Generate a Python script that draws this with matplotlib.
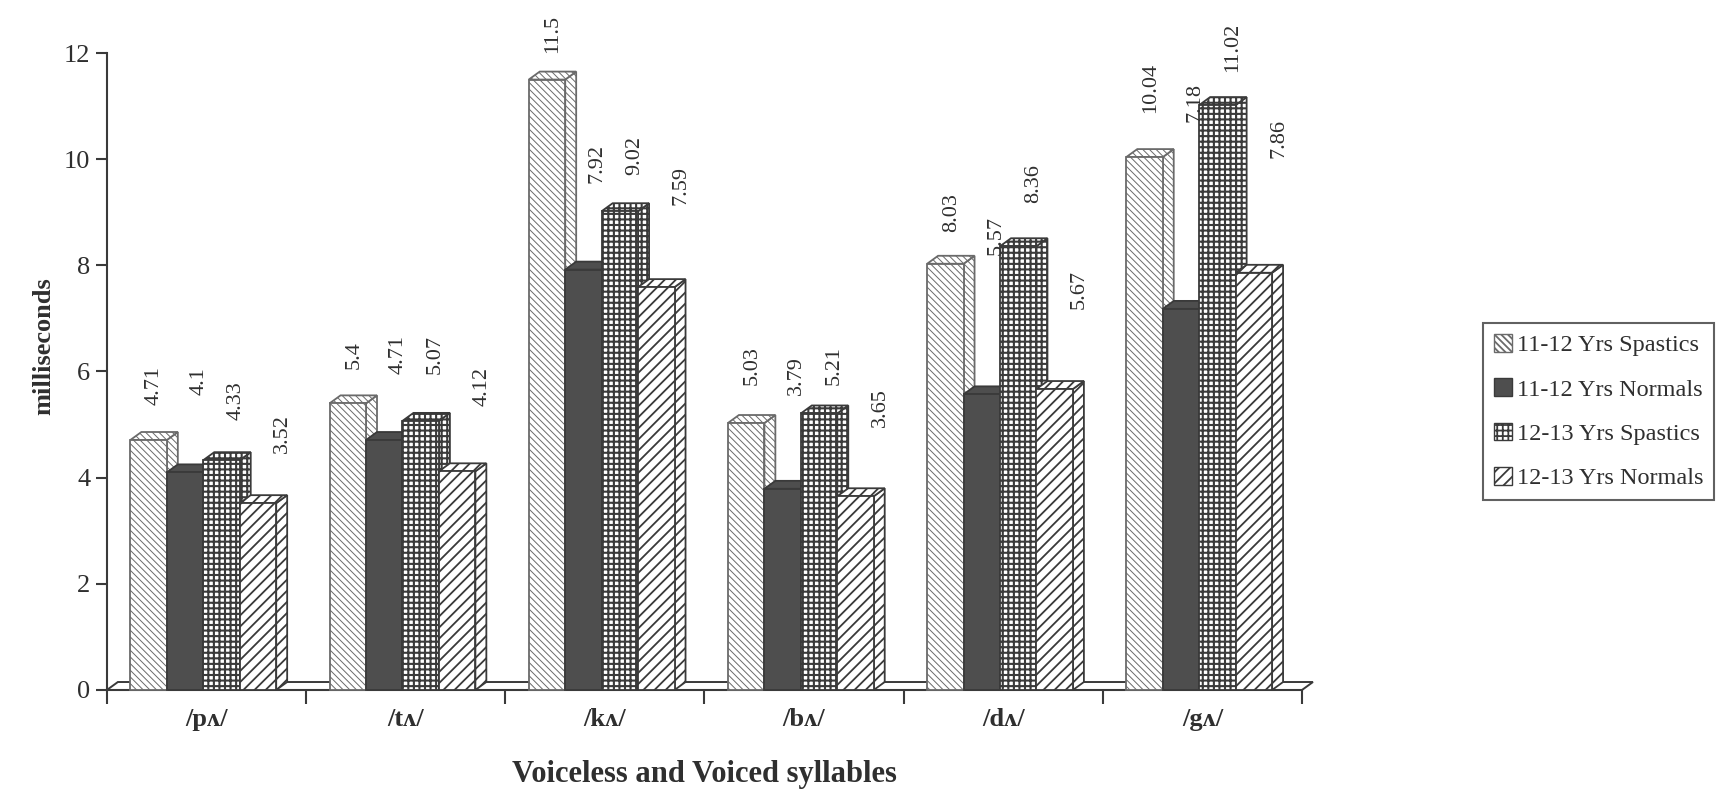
import matplotlib
matplotlib.use("Agg")
import matplotlib.pyplot as plt
from matplotlib.patches import Polygon, Patch

# ---- data -------------------------------------------------------------
categories = ["/p\u028c/", "/t\u028c/", "/k\u028c/", "/b\u028c/", "/d\u028c/", "/g\u028c/"]
series_names = ["11-12 Yrs Spastics", "11-12 Yrs Normals",
                "12-13 Yrs Spastics", "12-13 Yrs Normals"]
spastics_11_12 = [4.71, 5.4, 11.5, 5.03, 8.03, 10.04]
normals_11_12 = [4.1, 4.71, 7.92, 3.79, 5.57, 7.18]
spastics_12_13 = [4.33, 5.07, 9.02, 5.21, 8.36, 11.02]
normals_12_13 = [3.52, 4.12, 7.59, 3.65, 5.67, 7.86]
y_ticks = [0, 2, 4, 6, 8, 10, 12]

series_values = [spastics_11_12, normals_11_12, spastics_12_13, normals_12_13]

# ---- layout / style ---------------------------------------------------
# where each rotated value label starts (in axis units), per series
label_start = [
    [5.37, 6.05, 12.0, 5.75, 8.63, 10.87],
    [5.56, 5.95, 9.55, 5.55, 8.19, 10.70],
    [5.08, 5.95, 9.70, 5.75, 9.17, 11.64],
    [4.46, 5.35, 9.13, 4.95, 7.17, 10.02],
]
label_dx = [0.03, 0.07, 0.075, 0.125]

ink = "#3a3a3a"
text_ink = "#2f2f2f"
hatches = ["\\\\\\\\\\", None, "+++", "///"]
hatch_lw = [0.7, 1.0, 1.5, 1.3]
faces = ["white", "#4e4e4e", "white", "white"]
edge_cols = ["#6a6a6a", ink, ink, ink]

bar_w = 0.183
first_off = 0.118
depth_x = 0.055
depth_y = 0.15

serif = ["Liberation Serif", "DejaVu Serif"]
plt.rcParams["font.family"] = serif

fig = plt.figure(figsize=(17.3, 7.96), dpi=100)
ax = fig.add_axes([0.0618, 0.1332, 0.6908, 0.8002])
ax.set_xlim(0, len(categories))
ax.set_ylim(0, 12)


def make_patch(poly, j):
    plt.rcParams["hatch.linewidth"] = hatch_lw[j]
    p = Polygon(poly, closed=True, facecolor=faces[j], edgecolor=edge_cols[j],
                hatch=hatches[j], linewidth=1.3, clip_on=False)
    if hasattr(p, "set_hatch_linewidth"):
        p.set_hatch_linewidth(hatch_lw[j])
    return p


# floor slab
floor = Polygon([(0, 0), (len(categories), 0),
                 (len(categories) + depth_x, depth_y), (depth_x, depth_y)],
                closed=True, facecolor="white", edgecolor=ink, linewidth=1.4,
                clip_on=False, zorder=1)
ax.add_patch(floor)

for j, vals in enumerate(series_values):
    lefts = [i + first_off + j * bar_w for i in range(len(categories))]
    plt.rcParams["hatch.linewidth"] = hatch_lw[j]
    bars = ax.bar(lefts, vals, width=bar_w, align="edge", color=faces[j],
                  edgecolor=edge_cols[j], hatch=hatches[j], linewidth=1.3,
                  zorder=10 + 3 * j + 2)
    for b in bars:
        if hasattr(b, "set_hatch_linewidth"):
            b.set_hatch_linewidth(hatch_lw[j])
        b.set_clip_on(False)
    for x0, h in zip(lefts, vals):
        x1 = x0 + bar_w
        side = make_patch([(x1, 0), (x1 + depth_x, depth_y),
                           (x1 + depth_x, h + depth_y), (x1, h)], j)
        side.set_zorder(10 + 3 * j)
        top = make_patch([(x0, h), (x1, h), (x1 + depth_x, h + depth_y),
                          (x0 + depth_x, h + depth_y)], j)
        top.set_zorder(10 + 3 * j + 1)
        ax.add_patch(side)
        ax.add_patch(top)
    for i, (x0, v) in enumerate(zip(lefts, vals)):
        ax.text(x0 + bar_w / 2 + label_dx[j], label_start[j][i], str(v),
                rotation=90, ha="center", va="bottom", fontsize=16,
                color=text_ink, zorder=40)

# axes styling
for s in ["top", "right"]:
    ax.spines[s].set_visible(False)
for s in ["left", "bottom"]:
    ax.spines[s].set_color(ink)
    ax.spines[s].set_linewidth(1.5)

ax.set_yticks(y_ticks)
ax.set_yticklabels([str(t) for t in y_ticks])
ax.tick_params(axis="y", length=8, width=1.5, color=ink, labelsize=19,
               labelcolor=text_ink, pad=4)

ax.set_xticks(range(len(categories) + 1))
ax.set_xticklabels([])
ax.tick_params(axis="x", which="major", length=10, width=1.5, color=ink)
ax.set_xticks([i + 0.5 for i in range(len(categories))], minor=True)
ax.set_xticklabels(categories, minor=True, fontsize=19, fontweight="bold",
                   color=text_ink)
ax.tick_params(axis="x", which="minor", length=0, pad=13)

ax.set_ylabel("milliseconds", fontsize=19, fontweight="bold",
              color=text_ink)
ax.yaxis.set_label_coords(-0.043, 0.54)
ax.set_xlabel("Voiceless and Voiced syllables", fontsize=22,
              fontweight="bold", color=text_ink)
ax.xaxis.set_label_coords(0.5, -0.11)

# legend
handles = []
for j in range(4):
    plt.rcParams["hatch.linewidth"] = hatch_lw[j]
    h = Patch(facecolor=faces[j], edgecolor=edge_cols[j], hatch=hatches[j],
              linewidth=1.0, label=series_names[j])
    if hasattr(h, "set_hatch_linewidth"):
        h.set_hatch_linewidth(hatch_lw[j])
    handles.append(h)
leg = fig.legend(handles=handles, loc="upper left",
                 bbox_to_anchor=(0.857, 0.594), fontsize=17.5,
                 frameon=True, fancybox=False, handlelength=0.75,
                 handleheight=0.75, handletextpad=0.2, labelspacing=0.9,
                 borderpad=0.45, borderaxespad=0)
leg.get_frame().set_edgecolor(ink)
leg.get_frame().set_linewidth(1.5)
for t in leg.get_texts():
    t.set_color(text_ink)

fig.savefig("out.png", dpi=100, facecolor="white")
